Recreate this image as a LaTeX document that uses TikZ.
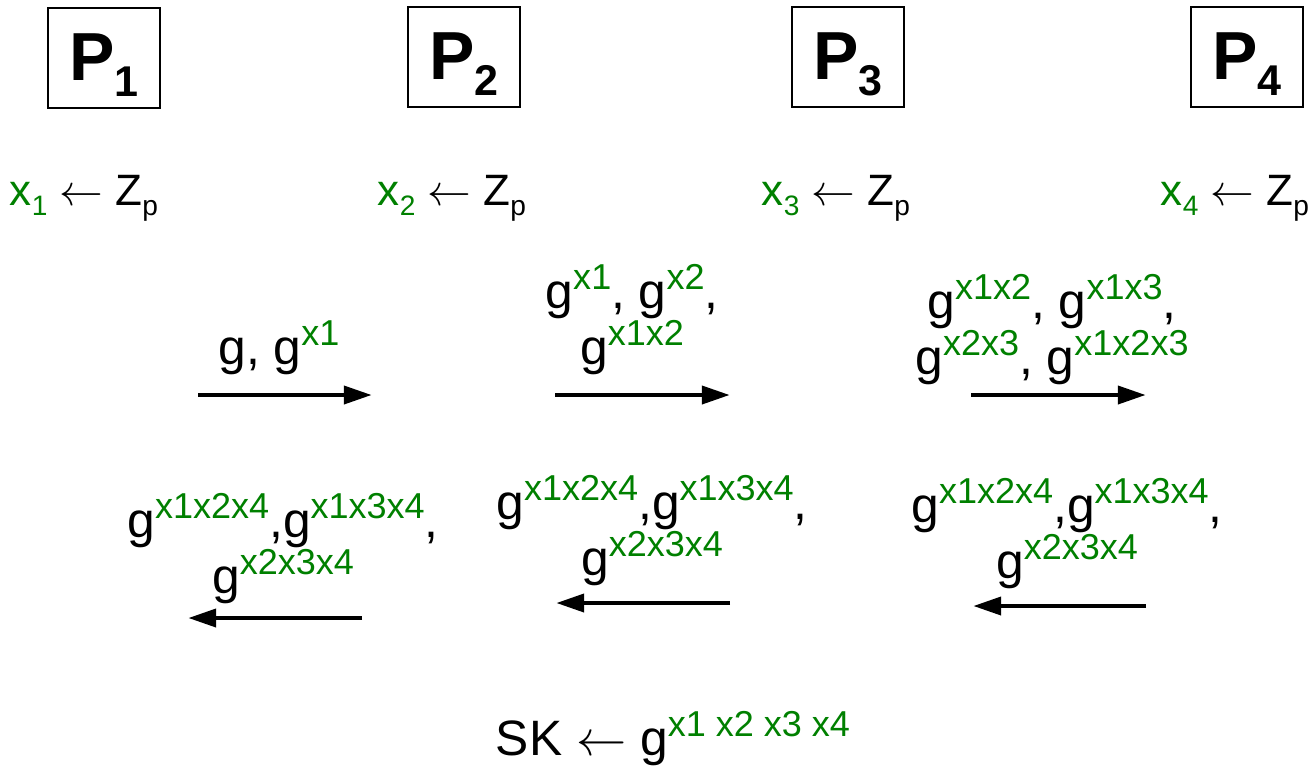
\documentclass[tikz,border=0pt]{standalone}
\usepackage{graphicx}
\usepackage{fontspec}
\setmainfont{Liberation Sans}
\usepackage{tikz}
\usetikzlibrary{arrows.meta}
\definecolor{keygreen}{HTML}{008000}
\newcommand{\gpow}[1]{g\raisebox{10.5pt}{\fontsize{20.5}{21}\selectfont\textcolor{keygreen}{#1}}}
\newcommand{\pick}[1]{\textcolor{keygreen}{x\raisebox{-6pt}{\fontsize{16}{16}\selectfont #1}} $\leftarrow$ Z\raisebox{-6pt}{\fontsize{16}{16}\selectfont p}}
\newcommand{\party}[1]{P\raisebox{-9pt}{\fontsize{24.5}{25}\selectfont #1}}
\tikzset{
	partybox/.style={
			draw=black,
			line width=0.9pt,
			minimum width=2.24cm,
			minimum height=2cm,
			inner sep=0pt,
			text height=29pt,
			text depth=3pt,
			font=\fontsize{38.7}{40}\selectfont\bfseries
		},
	keynode/.style={
			anchor=base,
			inner sep=0pt,
			font=\fontsize{25}{28}\selectfont
		},
	msgnode/.style={
			anchor=base,
			inner sep=0pt,
			align=center,
			font=\fontsize{28.3}{30}\selectfont
		},
	msgarrow/.style={
			line width=2.8pt,
			-{Triangle[length=16pt,width=10pt]}
		}
}

\begin{document}
\begin{tikzpicture}[x=0.02cm, y=-0.02cm]
\useasboundingbox (0,0) rectangle (1313,765);
\node[partybox] (p1) at (104,58) {\party{1}};
\node[partybox] (p2) at (464,57) {\party{2}};
\node[partybox] (p3) at (848,57) {\party{3}};
\node[partybox] (p4) at (1247,57) {\party{4}};

\node[keynode] (k1) at (84,205) {\pick{1}};
\node[keynode] (k2) at (452,205) {\pick{2}};
\node[keynode] (k3) at (836,205) {\pick{3}};
\node[keynode] (k4) at (1235,205) {\pick{4}};

\node[msgnode] (m1) at (279,364) {g, \gpow{x1}};
\node[msgnode] (m2) at (632,364) {\gpow{x1}, \gpow{x2},\\ \gpow{x1x2}};
\node[msgnode] (m3) at (1052,374) {\gpow{x1x2}, \gpow{x1x3},\\ \gpow{x2x3}, \gpow{x1x2x3}};

\coordinate (f1s) at (198,395);
\coordinate (f1e) at (372,395);
\coordinate (f2s) at (555,395);
\coordinate (f2e) at (730,395);
\coordinate (f3s) at (971,395);
\coordinate (f3e) at (1146,395);
\draw[msgarrow] (f1s) -- (f1e);
\draw[msgarrow] (f2s) -- (f2e);
\draw[msgarrow] (f3s) -- (f3e);

\node[msgnode] (b1) at (283,593) {\gpow{x1x2x4},\gpow{x1x3x4},\\ \gpow{x2x3x4}};
\node[msgnode] (b2) at (652,575) {\gpow{x1x2x4},\gpow{x1x3x4},\\ \gpow{x2x3x4}};
\node[msgnode] (b3) at (1067,578) {\gpow{x1x2x4},\gpow{x1x3x4},\\ \gpow{x2x3x4}};

\coordinate (r1s) at (362,618);
\coordinate (r1e) at (188,618);
\coordinate (r2s) at (730,603);
\coordinate (r2e) at (556,603);
\coordinate (r3s) at (1146,606);
\coordinate (r3e) at (973,606);
\draw[msgarrow] (r1s) -- (r1e);
\draw[msgarrow] (r2s) -- (r2e);
\draw[msgarrow] (r3s) -- (r3e);

\node[msgnode] (sk) at (673,755) {SK \scalebox{1.15}{$\leftarrow$} \gpow{x1 x2 x3 x4}};
\end{tikzpicture}
\end{document}
